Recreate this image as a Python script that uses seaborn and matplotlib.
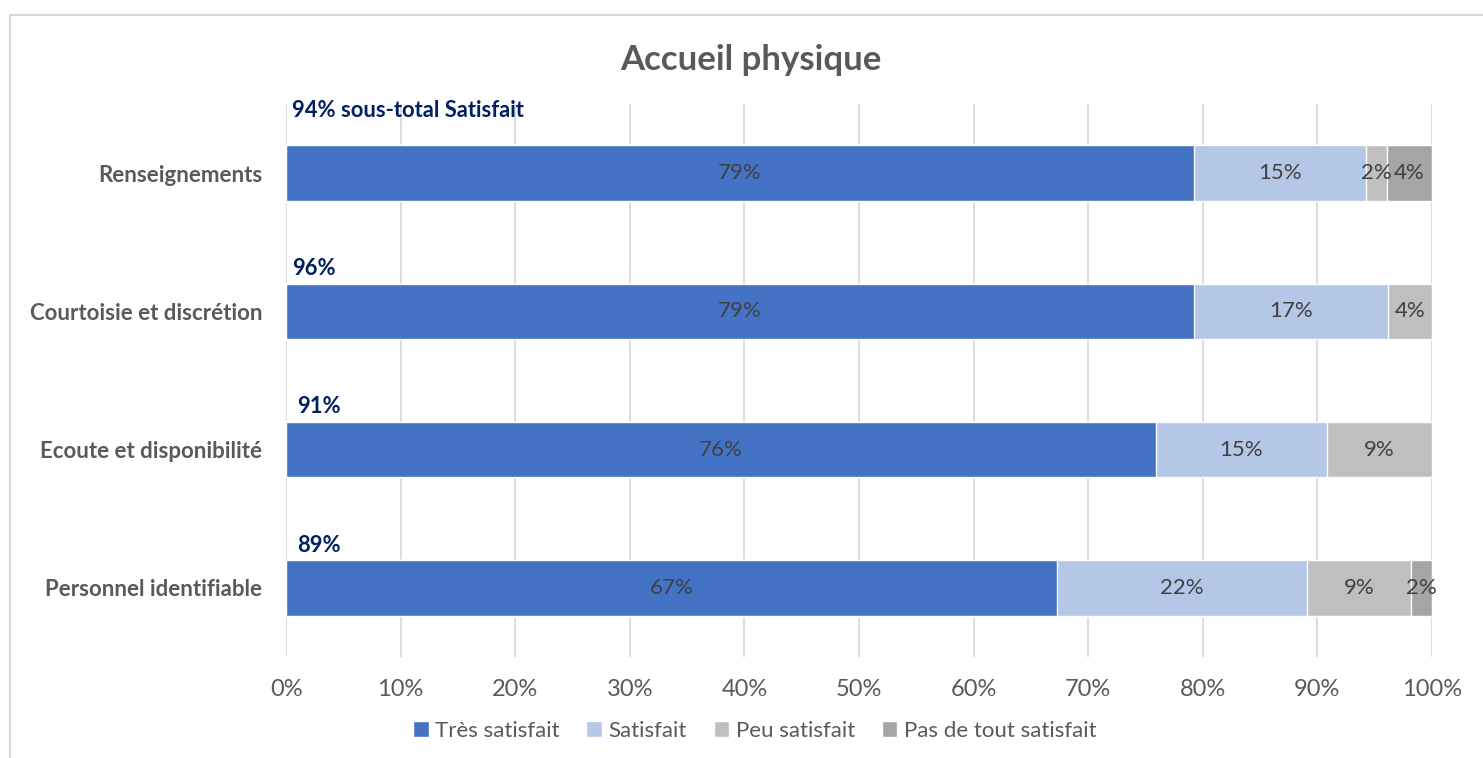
import numpy as np
import pandas as pd
import matplotlib.pyplot as plt
import seaborn as sns
from matplotlib.lines import Line2D
from matplotlib.patches import Patch

# data (% of respondents)
categories = ["Renseignements", "Courtoisie et discrétion",
              "Ecoute et disponibilité", "Personnel identifiable"]
tres_satisfait = [79.2, 79.2, 75.9, 67.3]
satisfait = [15.0, 17.0, 14.9, 21.8]
peu_satisfait = [1.9, 3.8, 9.2, 9.1]
pas_satisfait = [3.9, 0.0, 0.0, 1.8]
sous_total = ["94% sous-total Satisfait", "96%", "91%", "89%"]

series = ["Très satisfait", "Satisfait", "Peu satisfait", "Pas de tout satisfait"]
colors = ["#4472C4", "#B4C7E7", "#BFBFBF", "#A5A5A5"]

sns.set_style("white")
plt.rcParams['font.family'] = ['Lato', 'DejaVu Sans']

df = pd.DataFrame({"categorie": categories,
                   series[0]: tres_satisfait,
                   series[1]: satisfait,
                   series[2]: peu_satisfait,
                   series[3]: pas_satisfait})
cum = df[series].cumsum(axis=1)
cum["categorie"] = df["categorie"]

fig, ax = plt.subplots(figsize=(14.83, 7.58), dpi=100)
fig.subplots_adjust(left=0.1929, right=0.9656, top=0.8628, bottom=0.1332)

# stacked bars: draw cumulative totals from the back to the front
for s, c in reversed(list(zip(series, colors))):
    sns.barplot(data=cum, x=s, y="categorie", color=c, width=0.4,
                saturation=1, errorbar=None, ax=ax, zorder=2)

# segment labels
for i in range(len(categories)):
    left = 0
    for s in series:
        v = df[s][i]
        if v > 0:
            ax.text(left + v / 2, i, f"{v:.0f}%", ha="center", va="center",
                    fontsize=16, color="#404040", zorder=3)
        left += v

# sous-total labels above the bars
for i, lab in enumerate(sous_total):
    off = 0.455 if i == 0 else 0.31
    ax.text(0.5 if i < 2 else 1.0, i - off, lab, ha="left", va="center",
            fontsize=15.8, fontweight="bold", color="#002060")

ax.set_xlim(0, 100)
ax.set_ylim(3.5, -0.5)
ticks = list(range(0, 101, 10))
ax.set_xticks(ticks)
ax.set_xticklabels([f"{t}%" for t in ticks])
ax.set_xlabel("")
ax.set_ylabel("")
ax.grid(axis="x", color="#D9D9D9", linewidth=1.3)
ax.grid(axis="y", visible=False)
ax.set_axisbelow(True)
for sp in ax.spines.values():
    sp.set_visible(False)
ax.tick_params(axis="both", length=0, colors="#595959")
ax.tick_params(axis="x", pad=16, labelsize=17)
ax.tick_params(axis="y", pad=17, labelsize=16)
for lbl in ax.get_yticklabels():
    lbl.set_fontweight("bold")

fig.text(0.5065, 1 - 60 / 758, "Accueil physique", ha="center", va="center",
         fontsize=25, fontweight="bold", color="#595959")

handles = [Patch(facecolor=c, label=s) for s, c in zip(series, colors)]
fig.legend(handles=handles, loc="center", bbox_to_anchor=(0.509, 0.036),
           ncol=4, frameon=False, handlelength=0.7, handleheight=0.7,
           handletextpad=0.3, columnspacing=1.2, fontsize=16,
           labelcolor="#595959")

# chart frame (left and top edges)
fig.add_artist(Line2D([10 / 1483, 10 / 1483], [0, 1 - 15 / 758],
                      color="#D9D9D9", linewidth=1.5))
fig.add_artist(Line2D([10 / 1483, 1], [1 - 15 / 758, 1 - 15 / 758],
                      color="#D9D9D9", linewidth=1.5))

fig.savefig("out.png", dpi=100)
